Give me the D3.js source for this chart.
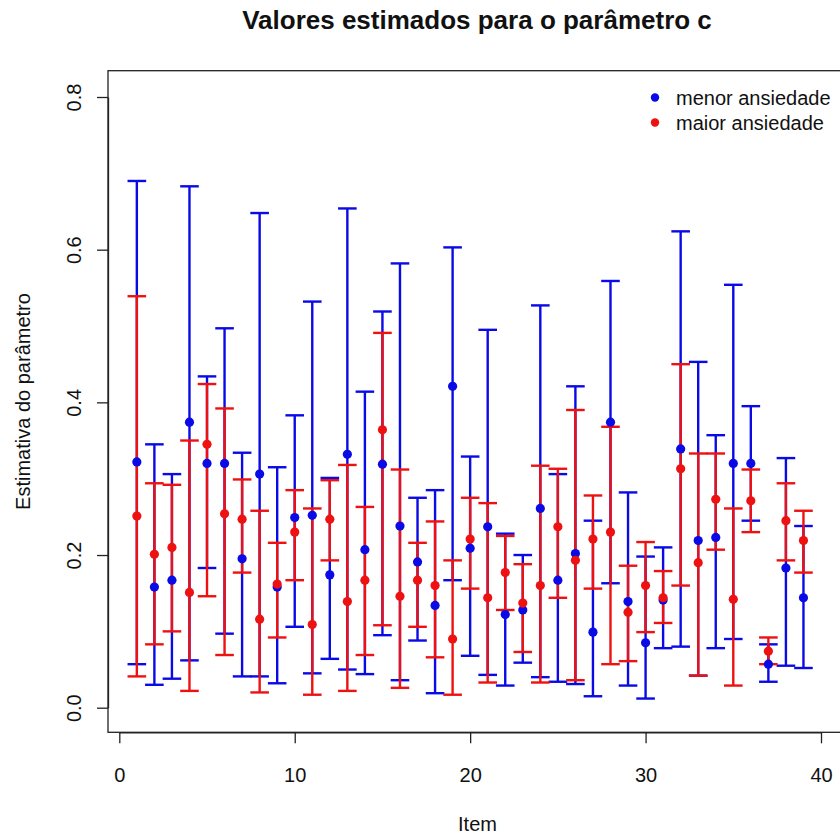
<!DOCTYPE html>
<html>
<head>
<meta charset="utf-8">
<script src="https://cdn.jsdelivr.net/npm/d3@7"></script>
<style>
  html, body { margin: 0; padding: 0; background: #fff; }
  svg { display: block; }
  text { font-family: "Liberation Sans", Arial, sans-serif; fill: #111; }
</style>
</head>
<body>
<svg id="chart" width="840" height="837"></svg>
<script>
// Item numbers 1..39
const items = d3.range(1, 40);

// "menor ansiedade" group: estimate, lower and upper limits
const menorEst = [0.322,0.158,0.167,0.374,0.320,0.320,0.195,0.306,0.158,0.249,
                  0.252,0.174,0.332,0.207,0.319,0.238,0.191,0.134,0.421,0.209,
                  0.237,0.122,0.128,0.261,0.167,0.202,0.099,0.374,0.139,0.085,
                  0.141,0.339,0.219,0.223,0.320,0.320,0.057,0.183,0.144];
const menorLow = [0.057,0.030,0.038,0.062,0.183,0.097,0.041,0.041,0.032,0.106,
                  0.045,0.064,0.050,0.044,0.095,0.036,0.088,0.019,0.167,0.068,
                  0.043,0.029,0.059,0.040,0.034,0.031,0.015,0.163,0.029,0.012,
                  0.078,0.080,0.042,0.078,0.090,0.245,0.034,0.055,0.052];
const menorHigh = [0.690,0.345,0.306,0.683,0.434,0.497,0.334,0.648,0.315,0.383,
                   0.532,0.301,0.654,0.414,0.519,0.582,0.275,0.285,0.603,0.329,
                   0.495,0.228,0.200,0.527,0.306,0.421,0.245,0.559,0.282,0.198,
                   0.210,0.624,0.453,0.357,0.554,0.395,0.083,0.327,0.238];

// "maior ansiedade" group: estimate, lower and upper limits
const maiorEst = [0.251,0.201,0.210,0.151,0.345,0.254,0.247,0.116,0.162,0.230,
                  0.109,0.247,0.139,0.167,0.364,0.146,0.167,0.160,0.090,0.221,
                  0.144,0.177,0.137,0.160,0.237,0.193,0.221,0.230,0.125,0.160,
                  0.144,0.313,0.190,0.273,0.142,0.271,0.074,0.245,0.219];
const maiorLow = [0.041,0.083,0.100,0.022,0.146,0.069,0.177,0.020,0.092,0.167,
                  0.017,0.193,0.022,0.069,0.108,0.026,0.106,0.066,0.017,0.156,
                  0.033,0.128,0.073,0.033,0.144,0.036,0.156,0.057,0.061,0.099,
                  0.111,0.160,0.042,0.207,0.029,0.230,0.057,0.193,0.177];
const maiorHigh = [0.539,0.294,0.292,0.350,0.424,0.392,0.299,0.258,0.216,0.285,
                   0.261,0.298,0.318,0.263,0.491,0.312,0.216,0.244,0.193,0.275,
                   0.268,0.225,0.188,0.317,0.313,0.390,0.278,0.368,0.186,0.217,
                   0.179,0.450,0.333,0.333,0.261,0.312,0.092,0.294,0.258];

const xTicks = [0, 10, 20, 30, 40];
const yTicks = [0.0, 0.2, 0.4, 0.6, 0.8];
const legendLabels = ["menor ansiedade", "maior ansiedade"];
const colors = ["#0a0ae6", "#ee1111"];

const svg = d3.select("#chart");

// plotting region
const box = { left: 108, top: 70.7, right: 845, bottom: 732.3 };
const x = d3.scaleLinear().domain([0, 40]).range([119.3, 821]);
const y = d3.scaleLinear().domain([0, 0.8]).range([707.7, 97]);

const series = [
  { est: menorEst, low: menorLow, high: menorHigh, color: colors[0] },
  { est: maiorEst, low: maiorLow, high: maiorHigh, color: colors[1] }
];

const capHalf = 9.3;
const lw = 2.4;

// error bars (blue first, red over it)
series.forEach(s => {
  const g = svg.append("g").attr("stroke", s.color).attr("stroke-width", lw).attr("fill", "none");
  items.forEach((it, i) => {
    const xi = x(it);
    g.append("line").attr("x1", xi).attr("x2", xi).attr("y1", y(s.low[i])).attr("y2", y(s.high[i]));
    g.append("line").attr("x1", xi - capHalf).attr("x2", xi + capHalf).attr("y1", y(s.low[i])).attr("y2", y(s.low[i]));
    g.append("line").attr("x1", xi - capHalf).attr("x2", xi + capHalf).attr("y1", y(s.high[i])).attr("y2", y(s.high[i]));
  });
});

// estimates
series.forEach(s => {
  svg.append("g").selectAll("circle").data(items).join("circle")
    .attr("cx", d => x(d))
    .attr("cy", (d, i) => y(s.est[i]))
    .attr("r", 4.6)
    .attr("fill", s.color);
});

// frame
svg.append("rect")
  .attr("x", box.left).attr("y", box.top)
  .attr("width", box.right - box.left).attr("height", box.bottom - box.top)
  .attr("fill", "none").attr("stroke", "#222").attr("stroke-width", 1.3);

// x axis
const xAxis = svg.append("g")
  .attr("transform", `translate(0,${box.bottom})`)
  .call(d3.axisBottom(x).tickValues(xTicks).tickFormat(d3.format("d")).tickSize(11).tickSizeOuter(0));
xAxis.select(".domain").attr("stroke", "#222").attr("stroke-width", 1.3);
xAxis.selectAll(".tick line").attr("stroke", "#222").attr("stroke-width", 1.3);
xAxis.selectAll(".tick text")
  .attr("y", 49.4).attr("dy", null)
  .style("font-size", "20px").attr("fill", "#111");

// y axis with rotated labels
const yAxis = svg.append("g")
  .attr("transform", `translate(${box.left},0)`)
  .call(d3.axisLeft(y).tickValues(yTicks).tickFormat(d3.format(".1f")).tickSize(11).tickSizeOuter(0));
yAxis.select(".domain").attr("stroke", "#222").attr("stroke-width", 1.3);
yAxis.selectAll(".tick line").attr("stroke", "#222").attr("stroke-width", 1.3);
yAxis.selectAll(".tick text")
  .attr("x", 0).attr("y", 0).attr("dy", null)
  .attr("text-anchor", "middle")
  .attr("transform", `translate(${80.5 - box.left},0) rotate(-90)`)
  .style("font-size", "20px").attr("fill", "#111");

// titles
svg.append("text")
  .attr("x", 477).attr("y", 29)
  .attr("text-anchor", "middle")
  .style("font-size", "26px").style("font-weight", "bold")
  .attr("fill", "#000")
  .text("Valores estimados para o parâmetro c");

svg.append("text")
  .attr("x", 477.5).attr("y", 831)
  .attr("text-anchor", "middle")
  .style("font-size", "20px")
  .text("Item");

svg.append("text")
  .attr("transform", `translate(29.5,${(box.top + box.bottom) / 2}) rotate(-90)`)
  .attr("text-anchor", "middle")
  .style("font-size", "20px")
  .text("Estimativa do parâmetro");

// legend
const legend = svg.append("g");
legendLabels.forEach((lab, i) => {
  legend.append("circle")
    .attr("cx", 655).attr("cy", 97.5 + i * 25)
    .attr("r", 4.2).attr("fill", colors[i]);
  legend.append("text")
    .attr("x", 676).attr("y", 104.5 + i * 25)
    .style("font-size", "20px")
    .text(lab);
});
</script>
</body>
</html>
